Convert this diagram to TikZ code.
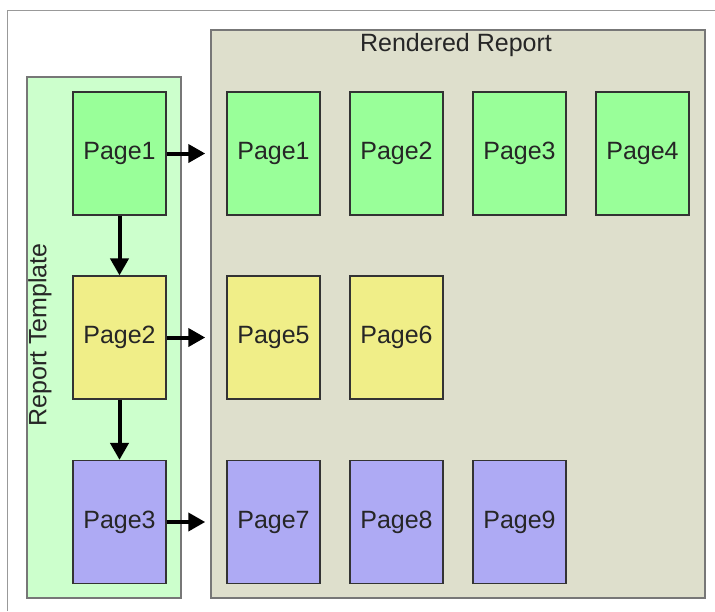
\documentclass[tikz,border=0pt]{standalone}
\usepackage{fontspec}
\setmainfont{Liberation Sans}
\usetikzlibrary{arrows.meta}
\definecolor{tmplbg}{HTML}{CCFFCC}
\definecolor{rendbg}{HTML}{DEDFCC}
\definecolor{pgreen}{HTML}{99FF99}
\definecolor{pyellow}{HTML}{F0EE88}
\definecolor{pblue}{HTML}{AEAAF4}
\definecolor{frameline}{HTML}{999999}
\definecolor{boxline}{HTML}{777777}
\tikzset{
  lbl/.style={font=\fontsize{25}{27}\selectfont, text=black!85},
  container/.style={draw=boxline, line width=1.5pt, inner sep=0pt},
  page/.style={draw=black!80, line width=1.2pt, minimum width=93pt, minimum height=123pt, inner sep=0pt, lbl},
  flow/.style={line width=4pt, -{Triangle[length=17pt,width=18pt]}},
}
\begin{document}
\begin{tikzpicture}[x=1pt,y=-1pt]
\useasboundingbox (0,0) rectangle (715,611);
% outer frame (cropped)
\draw[frameline, line width=1.5pt] (7.5,611) -- (7.5,10.5) -- (715,10.5);
% containers
\node[container, fill=tmplbg, minimum width=154pt, minimum height=521pt] (tmpl) at (104,337.5) {};
\node[container, fill=rendbg, minimum width=494pt, minimum height=568pt] (rend) at (458,314) {};
\node[lbl] (rendtitle) at (456,45) {Rendered Report};
\node[lbl, rotate=90] (tmpltitle) at (40,335) {Report Template};
% template pages
\node[page, fill=pgreen] (t1) at (119.5,153.5) {Page1};
\node[page, fill=pyellow] (t2) at (119.5,337.5) {Page2};
\node[page, fill=pblue] (t3) at (119.5,522) {Page3};
% rendered pages
\node[page, fill=pgreen] (r1) at (273.5,153.5) {Page1};
\node[page, fill=pgreen] (r2) at (396.5,153.5) {Page2};
\node[page, fill=pgreen] (r3) at (519.5,153.5) {Page3};
\node[page, fill=pgreen] (r4) at (642.5,153.5) {Page4};
\node[page, fill=pyellow] (r5) at (273.5,337.5) {Page5};
\node[page, fill=pyellow] (r6) at (396.5,337.5) {Page6};
\node[page, fill=pblue] (r7) at (273.5,522) {Page7};
\node[page, fill=pblue] (r8) at (396.5,522) {Page8};
\node[page, fill=pblue] (r9) at (519.5,522) {Page9};
% arrows
\draw[flow] (t1.south) -- (t2.north);
\draw[flow] (t2.south) -- (t3.north);
\draw[flow] (t1.east) -- ([xshift=-5pt]rend.west |- t1.east);
\draw[flow] (t2.east) -- ([xshift=-5pt]rend.west |- t2.east);
\draw[flow] (t3.east) -- ([xshift=-5pt]rend.west |- t3.east);
\end{tikzpicture}
\end{document}
